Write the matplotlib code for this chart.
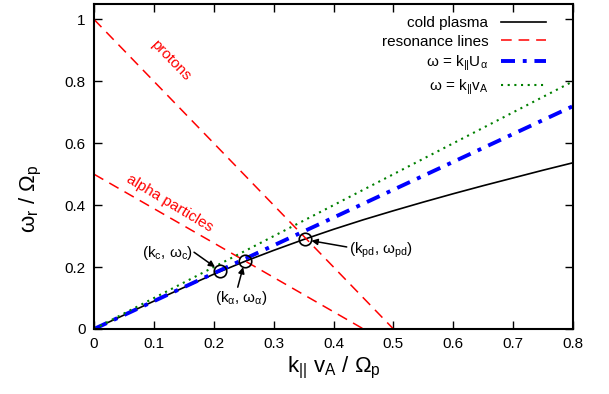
import matplotlib
matplotlib.use("Agg")
import matplotlib.pyplot as plt
import numpy as np

plt.rcParams['font.family'] = ['Liberation Sans', 'DejaVu Sans']
plt.rcParams['mathtext.default'] = 'regular'

# cold plasma dispersion curve
k_cold = [0, 0.05, 0.1, 0.15, 0.2, 0.25, 0.3, 0.35, 0.4, 0.45, 0.5, 0.55, 0.6, 0.65, 0.7, 0.75, 0.8]
w_cold = [0, 0.045, 0.09, 0.134, 0.177, 0.217, 0.254, 0.289, 0.322, 0.353, 0.382, 0.41, 0.437, 0.463, 0.488, 0.513, 0.537]

# resonance lines (k, omega end points)
k_res_p = [0, 0.5]
w_res_p = [1.0, 0.0]
k_res_a = [0, 0.45]
w_res_a = [0.5, 0.0]

# straight lines omega = k*U_alpha and omega = k*v_A
k_lin = [0, 0.8]
w_ualpha = [0, 0.72]
w_va = [0, 0.8]

# marked points
pt_k = [0.21, 0.252, 0.353]
pt_w = [0.188, 0.221, 0.291]
pt_labels = [r'(k$_c$, $\omega_c$)', r'(k$_\alpha$, $\omega_\alpha$)', r'(k$_{pd}$, $\omega_{pd}$)']

fig = plt.figure(figsize=(6.09, 3.94), dpi=100)
ax = fig.add_axes([0.1544, 0.165, 0.7866, 0.825])

ax.plot(k_cold, w_cold, color='black', lw=1.2, label='cold plasma')
ax.plot(k_res_p, w_res_p, color='red', lw=1.1, dashes=(7, 4.5), label='resonance lines')
ax.plot(k_res_a, w_res_a, color='red', lw=1.1, dashes=(7, 4.5))
ax.plot(k_lin, w_ualpha, color='blue', lw=2.8, dashes=(3.6, 2, 1, 2), label=r'$\omega$ = k$_{||}$U$_\alpha$')
ax.plot(k_lin, w_va, color='green', lw=1.5, dashes=(1, 2.2), label=r'$\omega$ = k$_{||}$v$_A$')
ax.plot(pt_k, pt_w, 'o', mfc='none', mec='black', ms=9, mew=1.2)

# labels for the marked points
ax.text(0.1235, 0.245, pt_labels[0], fontsize=11, ha='center', va='center')
ax.text(0.2466, 0.099, pt_labels[1], fontsize=11, ha='center', va='center')
ax.text(0.4257, 0.255, pt_labels[2], fontsize=11, ha='left', va='center')
arrow = dict(arrowstyle='-|>', color='black', lw=1.1, mutation_scale=9, shrinkA=0, shrinkB=0)
ax.annotate('', xy=(0.202, 0.2), xytext=(0.167, 0.248), arrowprops=arrow)
ax.annotate('', xy=(0.249, 0.2), xytext=(0.240, 0.135), arrowprops=arrow)
ax.annotate('', xy=(0.363, 0.285), xytext=(0.422, 0.265), arrowprops=arrow)

ax.text(0.1285, 0.868, 'protons', color='red', fontsize=11, rotation=-46,
        ha='center', va='center', rotation_mode='anchor')
ax.text(0.127, 0.405, 'alpha particles', color='red', fontsize=11, rotation=-31,
        ha='center', va='center', rotation_mode='anchor')

ax.set_xlim(0, 0.8)
ax.set_ylim(0, 1.05)
ax.set_xticks(np.arange(0, 0.81, 0.1))
ax.set_xticklabels(['0', '0.1', '0.2', '0.3', '0.4', '0.5', '0.6', '0.7', '0.8'])
ax.set_yticks(np.arange(0, 1.01, 0.2))
ax.set_yticklabels(['0', '0.2', '0.4', '0.6', '0.8', '1'])
ax.tick_params(direction='in', top=True, right=True, length=6, width=1, labelsize=11, pad=6)
for s in ax.spines.values():
    s.set_linewidth(1.5)

ax.set_xlabel(r'k$_{||}$ v$_A$ / $\Omega_p$', fontsize=16)
ax.set_ylabel(r'$\omega_r$ / $\Omega_p$', fontsize=16)
ax.xaxis.set_label_coords(0.5, -0.08)
ax.yaxis.set_label_coords(-0.105, 0.40)

ax.legend(loc='upper right', frameon=False, markerfirst=False, fontsize=11,
          handlelength=3.0, handletextpad=0.8, labelspacing=0.3,
          borderaxespad=0.4, bbox_to_anchor=(0.97, 1.0))

fig.savefig('out.png', dpi=100)
